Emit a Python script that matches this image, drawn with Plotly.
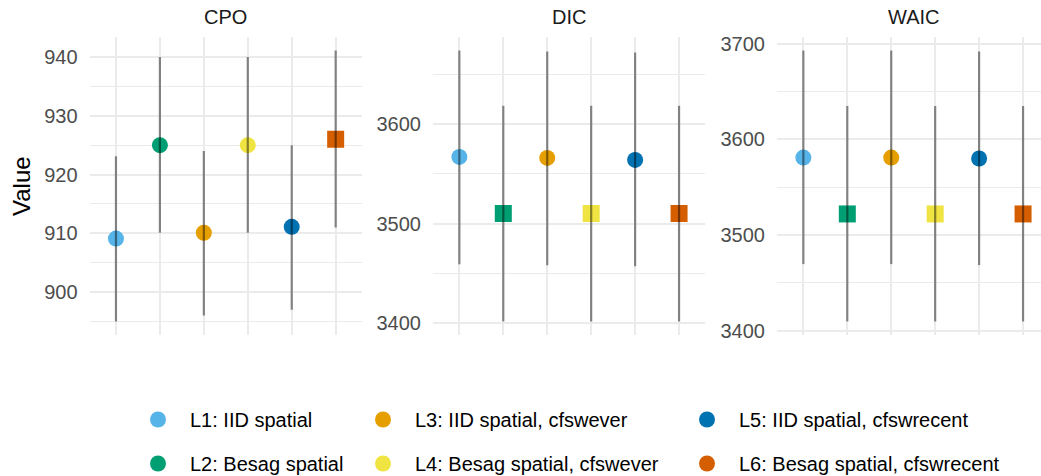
import plotly.graph_objects as go

W, H = 1041, 476

models = ["L1: IID spatial", "L2: Besag spatial", "L3: IID spatial, cfswever",
          "L4: Besag spatial, cfswever", "L5: IID spatial, cfswrecent",
          "L6: Besag spatial, cfswrecent"]
colors = ["#56B4E9", "#009E73", "#E69F00", "#F0E442", "#0072B2", "#D55E00"]

panels = ["CPO", "DIC", "WAIC"]

cpo_mean = [909.1, 925.0, 910.1, 925.0, 911.1, 926.0]
cpo_lo = [895.0, 910.1, 896.0, 910.1, 897.0, 911.0]
cpo_hi = [923.1, 940.0, 924.0, 940.0, 925.0, 941.1]

dic_mean = [3567, 3510, 3566, 3510, 3564, 3510]
dic_lo = [3459, 3401.5, 3458, 3401.5, 3457, 3401.5]
dic_hi = [3674, 3618.5, 3673, 3618.5, 3672, 3618.5]

waic_mean = [3581, 3522, 3581, 3522, 3580, 3522]
waic_lo = [3469.5, 3409.5, 3469.5, 3409.5, 3468.5, 3409.5]
waic_hi = [3693, 3635, 3693, 3635, 3692, 3635]

cpo_shape = ["circle", "circle", "circle", "circle", "circle", "square"]
ic_shape = ["circle", "square", "circle", "square", "circle", "square"]

cpo_ticks = [900, 910, 920, 930, 940]
dic_ticks = [3400, 3500, 3600]
waic_ticks = [3400, 3500, 3600, 3700]

data = [
    (cpo_mean, cpo_lo, cpo_hi, cpo_shape, cpo_ticks, 5),
    (dic_mean, dic_lo, dic_hi, ic_shape, dic_ticks, 50),
    (waic_mean, waic_lo, waic_hi, ic_shape, waic_ticks, 50),
]

# panel pixel extents
px_left = [89.6, 433.0, 777.0]
unit = 43.94
top_px, bot_px = 37.0, 335.0

FONT = "Liberation Sans, Arial, sans-serif"
GRID = "#EBEBEB"

fig = go.Figure()
layout = dict(
    width=W, height=H,
    margin=dict(l=0, r=0, t=0, b=0, autoexpand=False),
    plot_bgcolor="white", paper_bgcolor="white",
    font=dict(family=FONT, size=20, color="#4D4D4D"),
    showlegend=True,
)

annotations = []
for i, (mean, lo, hi, shapes, ticks, minor) in enumerate(data):
    ax = "" if i == 0 else str(i + 1)
    xa, ya = "x" + ax, "y" + ax
    sizes = [17 if s == "square" else 16 for s in shapes]
    fig.add_trace(go.Scatter(
        x=models, y=mean, mode="markers", xaxis=xa, yaxis=ya,
        marker=dict(color=colors, symbol=shapes, size=sizes, opacity=1,
                    line=dict(width=0)),
        showlegend=False, hoverinfo="skip"))
    xs, ys = [], []
    for m, l, h in zip(models, lo, hi):
        xs += [m, m, None]
        ys += [l, h, None]
    fig.add_trace(go.Scatter(
        x=xs, y=ys, mode="lines", xaxis=xa, yaxis=ya,
        line=dict(color="rgba(0,0,0,0.45)", width=2.2),
        showlegend=False, hoverinfo="skip"))

    left = px_left[i]
    right = min(left + unit * 6.2, W)
    xr_hi = -0.6 + (right - left) / unit
    ymin, ymax = min(lo), max(hi)
    span = ymax - ymin
    layout["xaxis" + ax] = dict(
        domain=[left / W, right / W], range=[-0.6, xr_hi],
        type="category", categoryorder="array", categoryarray=models,
        showticklabels=False, showgrid=True, gridcolor=GRID, gridwidth=2,
        zeroline=False, showline=False, ticks="", anchor=ya, fixedrange=True)
    layout["yaxis" + ax] = dict(
        domain=[1 - bot_px / H, 1 - top_px / H],
        range=[ymin - 0.05 * span, ymax + 0.05 * span],
        tickvals=ticks, showgrid=True, gridcolor=GRID, gridwidth=2,
        minor=dict(dtick=minor * 2, tick0=ticks[0] + minor, showgrid=True,
                   gridcolor=GRID, gridwidth=1, ticks=""),
        zeroline=False, showline=False, ticks="", ticklabelstandoff=11,
        tickfont=dict(size=20, color="#4D4D4D"), anchor=xa, fixedrange=True)
    annotations.append(dict(
        text=panels[i], x=(left + unit * 3.1) / W, y=1 - 17.5 / H,
        xref="paper", yref="paper", xanchor="center", yanchor="middle",
        showarrow=False, font=dict(size=20, color="#1A1A1A")))

annotations.append(dict(
    text="Value", x=22 / W, y=1 - 186 / H, xref="paper", yref="paper",
    xanchor="center", yanchor="middle", textangle=-90, showarrow=False,
    font=dict(size=24, color="#000000")))

# legend-only entries (circles), arranged in three columns
legend_names = ["legend", "legend", "legend2", "legend2", "legend3", "legend3"]
for m, c, lg in zip(models, colors, legend_names):
    fig.add_trace(go.Scatter(
        x=[None], y=[None], mode="markers", name=m, legend=lg, legendgroup=m,
        marker=dict(color=c, symbol="circle", size=16), xaxis="x", yaxis="y"))

legend_x_px = [126, 351, 675]
for j, lg in enumerate(["legend", "legend2", "legend3"]):
    layout[lg] = dict(
        x=legend_x_px[j] / W, xanchor="left", y=1 - 400 / H, yanchor="top",
        orientation="v", bgcolor="rgba(0,0,0,0)", borderwidth=0,
        font=dict(size=20, color="#000000", family=FONT),
        itemwidth=54, tracegroupgap=15, itemclick=False, itemdoubleclick=False)

layout["annotations"] = annotations
fig.update_layout(**layout)

fig.write_html("out.html")
